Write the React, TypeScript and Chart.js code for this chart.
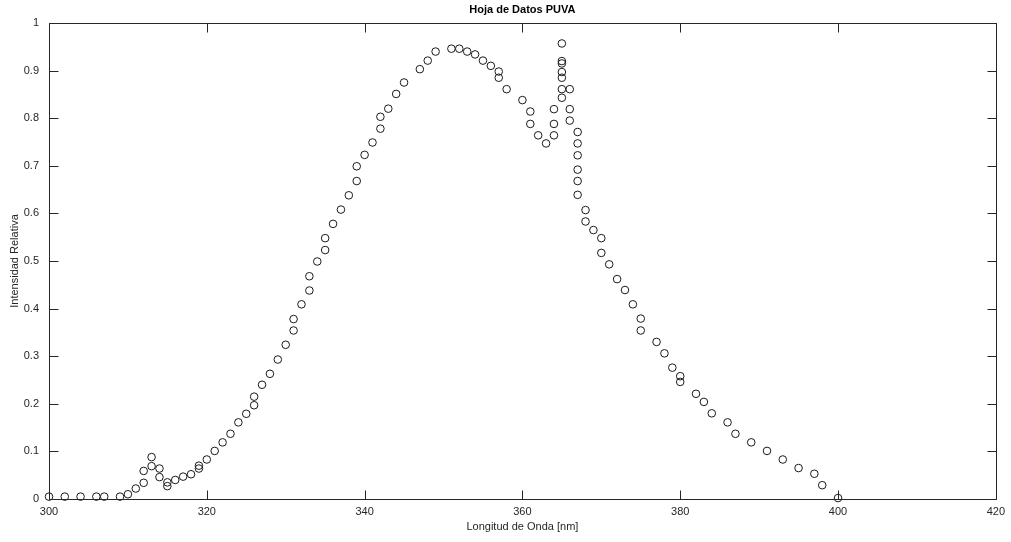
import { useEffect, useRef } from "react";
import { Chart, registerables } from "chart.js";

Chart.register(...registerables);

const wavelengths: number[] = [
  300, 302, 304, 306, 307, 309, 310, 311, 312, 312, 313, 313, 314, 314, 315, 315,
  316, 317, 318, 319, 319, 320, 321, 322, 323, 324, 325, 326, 326, 327, 328, 329,
  330, 331, 331, 332, 333, 333, 334, 335, 335, 336, 337, 338, 339, 339, 340, 341,
  342, 342, 343, 344, 345, 347, 348, 349, 351, 352, 353, 354, 355, 356, 357, 357,
  358, 360, 361, 361, 362, 363, 364, 364, 364, 365, 365, 365, 365, 365, 365, 365,
  366, 366, 366, 367, 367, 367, 367, 367, 367, 368, 368, 369, 370, 370, 371, 372,
  373, 374, 375, 375, 377, 378, 379, 380, 380, 382, 383, 384, 386, 387, 389, 391,
  393, 395, 397, 398, 400,
];

const intensities: number[] = [
  0.005, 0.005, 0.005, 0.005, 0.005, 0.005, 0.01, 0.022, 0.034, 0.059, 0.069, 0.088, 0.064, 0.046, 0.027, 0.035,
  0.04, 0.047, 0.052, 0.064, 0.07, 0.083, 0.101, 0.119, 0.137, 0.161, 0.179, 0.197, 0.215, 0.24, 0.263, 0.293,
  0.324, 0.354, 0.378, 0.409, 0.438, 0.468, 0.499, 0.523, 0.548, 0.578, 0.608, 0.638, 0.668, 0.699, 0.723, 0.749,
  0.778, 0.803, 0.82, 0.851, 0.875, 0.903, 0.921, 0.94, 0.946, 0.946, 0.94, 0.934, 0.921, 0.91, 0.898, 0.885,
  0.861, 0.838, 0.814, 0.788, 0.764, 0.747, 0.764, 0.788, 0.819, 0.957, 0.92, 0.915, 0.897, 0.885, 0.861, 0.843,
  0.861, 0.819, 0.795, 0.771, 0.747, 0.722, 0.692, 0.668, 0.639, 0.607, 0.583, 0.565, 0.548, 0.517, 0.493, 0.462,
  0.439, 0.409, 0.379, 0.354, 0.33, 0.306, 0.276, 0.258, 0.246, 0.221, 0.204, 0.18, 0.161, 0.137, 0.119, 0.101,
  0.083, 0.065, 0.053, 0.029, 0.002,
];

const xTicks: number[] = [300, 320, 340, 360, 380, 400, 420];
const yTicks: number[] = [0, 0.1, 0.2, 0.3, 0.4, 0.5, 0.6, 0.7, 0.8, 0.9, 1];
const yTickLabels: string[] = ["0", "0.1", "0.2", "0.3", "0.4", "0.5", "0.6", "0.7", "0.8", "0.9", "1"];

const chartTitle = "Hoja de Datos PUVA";
const xAxisLabel = "Longitud de Onda [nm]";
const yAxisLabel = "Intensidad Relativa";

const FONT = '"Liberation Sans", Arial, Helvetica, sans-serif';
const AXIS_COLOR = "#262626";

const boxPlugin = {
  id: "matlabBox",
  afterDraw(chart: any) {
    const { ctx, chartArea: a, scales } = chart;
    const tl = 9;
    ctx.save();
    ctx.strokeStyle = AXIS_COLOR;
    ctx.lineWidth = 1;
    const L = Math.round(a.left) + 0.5;
    const R = Math.round(a.right) + 0.5;
    const T = Math.round(a.top) + 0.5;
    const B = Math.round(a.bottom) + 0.5;
    ctx.beginPath();
    ctx.rect(L, T, R - L, B - T);
    for (const v of xTicks) {
      const px = Math.round(scales.x.getPixelForValue(v)) + 0.5;
      ctx.moveTo(px, B);
      ctx.lineTo(px, B - tl);
      ctx.moveTo(px, T);
      ctx.lineTo(px, T + tl);
    }
    for (const v of yTicks) {
      const py = Math.round(scales.y.getPixelForValue(v)) + 0.5;
      ctx.moveTo(L, py);
      ctx.lineTo(L + tl, py);
      ctx.moveTo(R, py);
      ctx.lineTo(R - tl, py);
    }
    ctx.stroke();

    const cx = (a.left + a.right) / 2;
    ctx.fillStyle = "#000";
    ctx.textAlign = "center";
    ctx.textBaseline = "middle";
    ctx.font = `bold 11px ${FONT}`;
    ctx.fillText(chartTitle, cx, 10);

    ctx.fillStyle = AXIS_COLOR;
    ctx.font = `11px ${FONT}`;
    ctx.fillText(xAxisLabel, cx, 527);

    ctx.save();
    ctx.translate(15, (a.top + a.bottom) / 2);
    ctx.rotate(-Math.PI / 2);
    ctx.fillText(yAxisLabel, 0, 0);
    ctx.restore();

    ctx.restore();
  },
};

export default function App() {
  const canvasRef = useRef<HTMLCanvasElement | null>(null);

  useEffect(() => {
    document.body.style.margin = "0";
    document.body.style.background = "#fff";
    const canvas = canvasRef.current;
    if (!canvas) return;
    const points = wavelengths.map((x, i) => ({ x, y: intensities[i] }));
    const chart = new Chart(canvas, {
      type: "scatter",
      data: {
        datasets: [
          {
            label: "PUVA",
            data: points,
            pointStyle: "circle",
            pointRadius: 3.8,
            pointBorderWidth: 1,
            pointBorderColor: "#1a1a1a",
            pointBackgroundColor: "rgba(0,0,0,0)",
            showLine: false,
            clip: false as any,
          },
        ],
      },
      options: {
        responsive: false,
        animation: false,
        devicePixelRatio: 1,
        layout: { padding: { left: 0, right: 10, top: 23, bottom: 0 } },
        plugins: {
          legend: { display: false },
          title: { display: false },
          tooltip: { enabled: false },
        },
        scales: {
          x: {
            type: "linear",
            min: 300,
            max: 420,
            border: { display: false },
            grid: { display: false, drawTicks: false },
            afterBuildTicks: (scale: any) => {
              scale.ticks = xTicks.map((v) => ({ value: v }));
            },
            afterFit: (scale: any) => {
              scale.height = 43;
            },
            ticks: {
              autoSkip: false,
              maxRotation: 0,
              padding: 6,
              color: AXIS_COLOR,
              font: { family: FONT, size: 11 },
              callback: (v: any) => String(v),
            },
          },
          y: {
            type: "linear",
            min: 0,
            max: 1,
            border: { display: false },
            grid: { display: false, drawTicks: false },
            afterBuildTicks: (scale: any) => {
              scale.ticks = yTicks.map((v) => ({ value: v }));
            },
            afterFit: (scale: any) => {
              scale.width = 49;
            },
            ticks: {
              autoSkip: false,
              padding: 10,
              color: AXIS_COLOR,
              font: { family: FONT, size: 11 },
              callback: (v: any) => {
                const i = yTicks.findIndex((t) => Math.abs(t - Number(v)) < 1e-9);
                return i >= 0 ? yTickLabels[i] : String(v);
              },
            },
          },
        },
      },
      plugins: [boxPlugin],
    });
    return () => chart.destroy();
  }, []);

  return (
    <canvas
      ref={canvasRef}
      width={1011}
      height={542}
      style={{ display: "block", width: 1011, height: 542 }}
    />
  );
}
